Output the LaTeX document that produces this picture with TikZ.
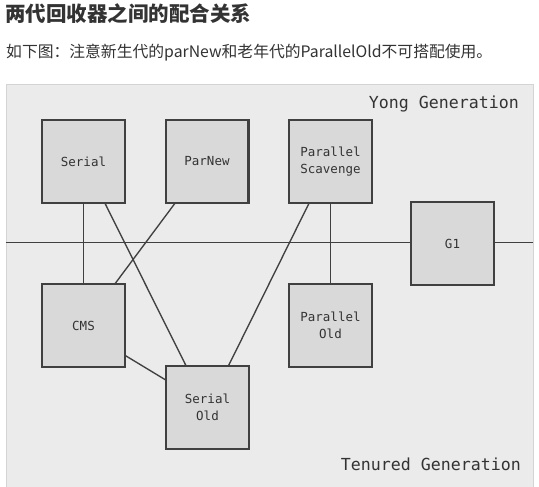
\documentclass[tikz,border=0pt]{standalone}
\usepackage{fontspec}
\setmonofont{DejaVu Sans Mono}
\newfontfamily\cjk{Noto Sans CJK SC}
\usetikzlibrary{calc}
\definecolor{panelbg}{HTML}{EBEBEB}
\definecolor{panelline}{HTML}{D4D4D4}
\definecolor{boxbg}{HTML}{D9D9D9}
\definecolor{edge}{HTML}{404040}
\definecolor{txt}{HTML}{333333}
\begin{document}
\begin{tikzpicture}[x=1pt,y=-1pt,
  gcbox/.style={draw=edge,line width=1.5pt,fill=boxbg,minimum width=82pt,minimum height=82pt,
    inner sep=0pt,align=center,font=\ttfamily\fontsize{12.5}{17.5}\selectfont,text=txt},
  link/.style={draw=edge,line width=1.35pt},
  gen/.style={font=\ttfamily\fontsize{16.6}{20}\selectfont,text=txt,inner sep=0pt}]
\useasboundingbox (0,0) rectangle (539,487);
\fill[white] (0,0) rectangle (539,487);
\node[anchor=base west,inner sep=0pt,text=txt,font=\cjk\bfseries\fontsize{20.5}{24}\selectfont] (title) at (5,22) {两代回收器之间的配合关系};
\node[anchor=base west,inner sep=0pt,text=txt,font=\cjk\fontsize{15.8}{18}\selectfont] (sub) at (6,58) {如下图：注意新生代的parNew和老年代的ParallelOld不可搭配使用。};
\draw[panelline,fill=panelbg,line width=0.8pt] (6,84) rectangle (533,492);
\coordinate (lineL) at (6,242.5);
\coordinate (lineR) at (533,242.5);
\draw[link] (lineL) -- (lineR);
\node[gen,anchor=base east] (yong) at (519,108.5) {Yong Generation};
\node[gen,anchor=base east] (tenured) at (521,470) {Tenured Generation};
\node[gcbox] (serial) at (83.5,161.5) {Serial};
\node[gcbox] (parnew) at (207,161.5) {ParNew};
\node[gcbox] (ps) at (330.5,161.5) {Parallel\\Scavenge};
\node[gcbox] (g1) at (452.5,243.5) {G1};
\node[gcbox] (cms) at (83.5,325.5) {CMS};
\node[gcbox] (po) at (330.5,325.5) {Parallel\\Old};
\node[gcbox] (so) at (207.5,407.5) {Serial\\Old};
\draw[link] (serial.south) -- (cms.north);
\draw[link] ($(serial.south)+(21.5,0)$) -- ($(so.north)+(-21.5,0)$);
\draw[link] ($(parnew.south)+(-32,0)$) -- ($(cms.north)+(31.5,0)$);
\draw[link] ($(ps.south)+(-21.5,0)$) -- ($(so.north)+(21,0)$);
\draw[link] (ps.south) -- (po.north);
\draw[link] ($(cms.east)+(0,30)$) -- ($(so.west)+(0,-27.5)$);
\foreach \n in {serial,parnew,ps,g1,cms,po,so}{\draw[edge,line width=1.5pt] (\n.north west) rectangle (\n.south east);}
\end{tikzpicture}
\end{document}
